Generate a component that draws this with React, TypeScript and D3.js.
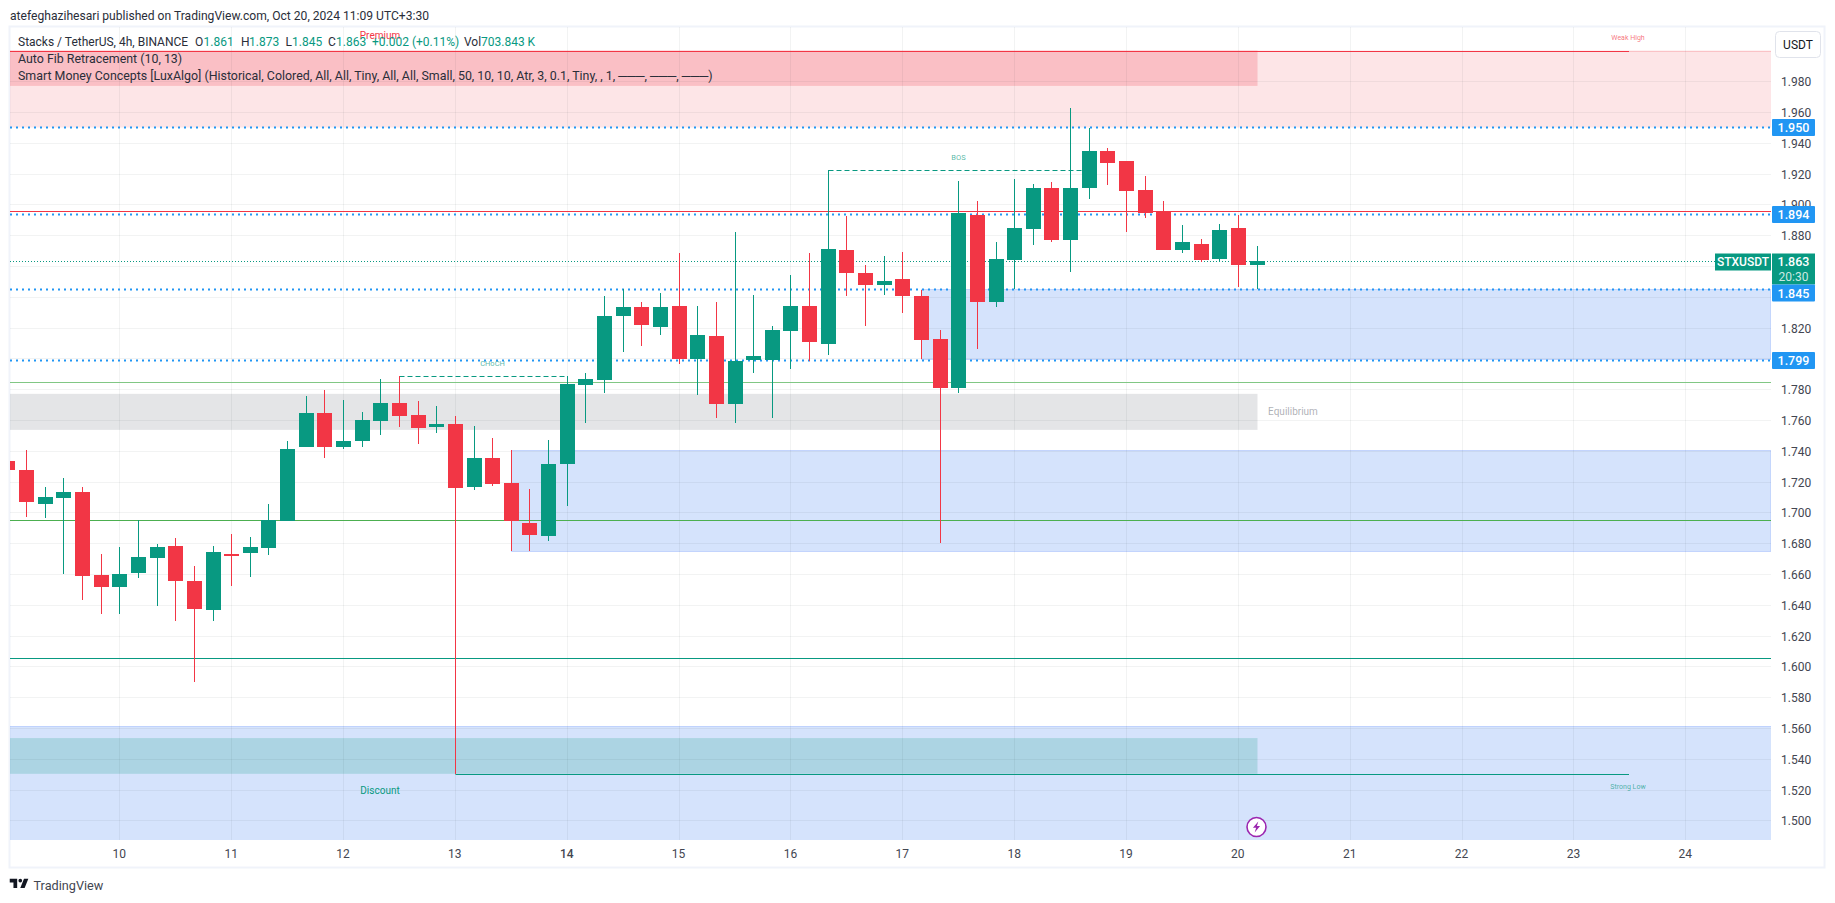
import React from 'react';
import * as d3 from 'd3';

// bars, 4h each, first one opens day 9 00:00: [open, high, low, close]
const bars: number[][] = [
  [1.7335, 1.735, 1.724, 1.7276],
  [1.7276, 1.7406, 1.6971, 1.7068],
  [1.7055, 1.7166, 1.6964, 1.7101],
  [1.7094, 1.7224, 1.6601, 1.7133],
  [1.7133, 1.7166, 1.6432, 1.6588],
  [1.6594, 1.6731, 1.6341, 1.6516],
  [1.6516, 1.6776, 1.6341, 1.6601],
  [1.6607, 1.6949, 1.6575, 1.6711],
  [1.6704, 1.6795, 1.6393, 1.6776],
  [1.6782, 1.6834, 1.6295, 1.6555],
  [1.6555, 1.6653, 1.5899, 1.6373],
  [1.6367, 1.6782, 1.6295, 1.6743],
  [1.673, 1.686, 1.6523, 1.6717],
  [1.6737, 1.6841, 1.6581, 1.6776],
  [1.6769, 1.7055, 1.6724, 1.6949],
  [1.6945, 1.7464, 1.6945, 1.7412],
  [1.7425, 1.7757, 1.7425, 1.7646],
  [1.7646, 1.7796, 1.7354, 1.7425],
  [1.7425, 1.7731, 1.7412, 1.7464],
  [1.7464, 1.7653, 1.7425, 1.7601],
  [1.7594, 1.7866, 1.7503, 1.7711],
  [1.7711, 1.7884, 1.7555, 1.7627],
  [1.7633, 1.7724, 1.7445, 1.7549],
  [1.7555, 1.7692, 1.7516, 1.7575],
  [1.7575, 1.7627, 1.5302, 1.7159],
  [1.7166, 1.7562, 1.7146, 1.7354],
  [1.7354, 1.7484, 1.7172, 1.7185],
  [1.7192, 1.7406, 1.675, 1.6945],
  [1.6932, 1.7153, 1.675, 1.6854],
  [1.6847, 1.7471, 1.6815, 1.7315],
  [1.7315, 1.7887, 1.7042, 1.7835],
  [1.7828, 1.7906, 1.7581, 1.7867],
  [1.7861, 1.8406, 1.7776, 1.8276],
  [1.8276, 1.8452, 1.8042, 1.8335],
  [1.8335, 1.8367, 1.8081, 1.8218],
  [1.8205, 1.8426, 1.8153, 1.8335],
  [1.8341, 1.8685, 1.7965, 1.7997],
  [1.7997, 1.8341, 1.7763, 1.8153],
  [1.8146, 1.8367, 1.7614, 1.7705],
  [1.7705, 1.8822, 1.7581, 1.7984],
  [1.7991, 1.8413, 1.7906, 1.8017],
  [1.7991, 1.8211, 1.7614, 1.8185],
  [1.8179, 1.8543, 1.7932, 1.8341],
  [1.8341, 1.8685, 1.7984, 1.8107],
  [1.8094, 1.9225, 1.8023, 1.8711],
  [1.8705, 1.8926, 1.8406, 1.8556],
  [1.8556, 1.8608, 1.8211, 1.8478],
  [1.8478, 1.8666, 1.8413, 1.8504],
  [1.8517, 1.8692, 1.8296, 1.8406],
  [1.8406, 1.8445, 1.7997, 1.812],
  [1.8127, 1.8185, 1.6802, 1.7809],
  [1.7809, 1.9153, 1.7776, 1.8945],
  [1.8932, 1.9023, 1.8062, 1.8367],
  [1.8367, 1.8757, 1.8335, 1.8647],
  [1.8639, 1.9165, 1.8451, 1.8847],
  [1.8841, 1.9133, 1.8737, 1.9107],
  [1.9107, 1.9146, 1.8756, 1.8769],
  [1.8769, 1.9627, 1.8561, 1.9107],
  [1.9107, 1.9497, 1.9035, 1.9347],
  [1.9347, 1.9367, 1.9126, 1.9269],
  [1.9282, 1.9282, 1.8821, 1.9087],
  [1.9094, 1.9185, 1.8912, 1.8944],
  [1.8957, 1.9022, 1.8704, 1.8704],
  [1.8704, 1.8866, 1.8685, 1.8756],
  [1.8743, 1.8776, 1.8626, 1.8639],
  [1.8646, 1.8873, 1.8626, 1.8834],
  [1.8847, 1.8931, 1.8464, 1.8607],
  [1.861, 1.873, 1.845, 1.863],
];

const dayTicks = [10, 11, 12, 13, 14, 15, 16, 17, 18, 19, 20, 21, 22, 23, 24];
const gridPrices = d3.range(25).map(i => 1.5 + i * 0.02);
const hiddenPriceLabels = [1.86, 1.84, 1.8];
const lastBar = bars.length - 1;

// zones: [top price, bottom price, first bar, last bar] (null = runs to the pane edge)
const zonesPale = [
  { top: 2.0, bottom: 1.95, from: null, to: null, fill: '#f23645', alpha: 0.13 },
  { top: 1.561, bottom: 1.47, from: null, to: null, fill: '#1664ee', alpha: 0.18 },
];
const zonesCore = [
  { top: 2.0, bottom: 1.977, from: null, to: lastBar, fill: '#f23645', alpha: 0.21 },
  { top: 1.777, bottom: 1.7536, from: null, to: lastBar, fill: '#787b86', alpha: 0.2 },
  { top: 1.5534, bottom: 1.5302, from: null, to: lastBar, fill: '#089981', alpha: 0.2 },
];
const orderBlocks = [
  { top: 1.7406, bottom: 1.675, from: 27 },
  { top: 1.845, bottom: 1.7997, from: 49 },
];
const levelLines = [
  { price: 1.7845, color: '#81c784' },
  { price: 1.695, color: '#4caf50' },
  { price: 1.6052, color: '#089981' },
  { price: 1.8955, color: '#f23645' },
];
const blueLevels = [1.95, 1.894, 1.845, 1.799];
const lastPrice = 1.863;

const structure = [
  { label: 'CHoCH', price: 1.7884, from: 21, to: 30, labelBar: 26 },
  { label: 'BOS', price: 1.9225, from: 44, to: 58, labelBar: 51 },
];
const swings = [
  { label: 'Weak High', price: 2.0, from: 0, color: '#f23645', labelDy: -14.5 },
  { label: 'Strong Low', price: 1.5302, from: 24, color: '#089981', labelDy: 11.5 },
];

const legendTop = [
  { text: 'Stacks / TetherUS, 4h, BINANCE', at: 18, up: false },
  { text: 'O', at: 195, up: false },
  { text: '1.861', at: 203.5, up: true },
  { text: 'H', at: 241, up: false },
  { text: '1.873', at: 249, up: true },
  { text: 'L', at: 285.5, up: false },
  { text: '1.845', at: 292, up: true },
  { text: 'C', at: 328, up: false },
  { text: '1.863', at: 336, up: true },
  { text: '+0.002 (+0.11%)', at: 372, up: true },
  { text: 'Vol', at: 464, up: false },
  { text: '703.843 K', at: 481, up: true },
];
const legendRows = [
  'Auto Fib Retracement (10, 13)',
  'Smart Money Concepts [LuxAlgo] (Historical, Colored, All, All, Tiny, All, All, Small, 50, 10, 10, Atr, 3, 0.1, Tiny, , 1, ───, ───, ───)',
];

const UP = '#089981';
const DOWN = '#f23645';
const BLUE = '#2196f3';
const FONT = 'Roboto, "Liberation Sans", sans-serif';

const WIDTH = 1835;
const HEIGHT = 903;
const pane = { left: 10, right: 1771, top: 27, bottom: 840 };

const x = d3.scaleLinear().domain([10, 24]).range([119.3, 1685.3]);
const y = d3.scaleLinear().domain([1.98, 1.5]).range([81.3, 820.3]);
const barX = (i: number) => Math.round(x(9 + i / 6)) + 0.5;
const py = (p: number) => Math.round(y(p)) + 0.5;
const zoneLeft = (from: number | null) => (from === null ? pane.left : barX(from));
const zoneRight = (to: number | null) => (to === null ? pane.right : barX(to));

const priceText = (p: number) => d3.format('.3f')(p);

function Badge({ price, centre, fill }: { price: number; centre: number; fill: string }) {
  return (
    <g>
      <rect x={1772} y={centre - 8.5} width={43} height={17} rx={1} fill={fill} />
      <text x={1793.5} y={centre + 4.5} textAnchor="middle" fontSize={12.5} fontWeight={500} fill="#fff">
        {priceText(price)}
      </text>
    </g>
  );
}

export default function App() {
  const bodyW = 15;
  const lastY = py(lastPrice);
  const lastBadgeBottom = lastY + 23;

  return (
    <svg
      width={WIDTH}
      height={HEIGHT}
      style={{ position: 'fixed', left: 0, top: 0, background: '#fff' }}
      fontFamily={FONT}
    >
      <defs>
        <clipPath id="pane">
          <rect x={pane.left} y={pane.top} width={pane.right - pane.left} height={pane.bottom - pane.top} />
        </clipPath>
      </defs>

      <text x={10} y={19.5} fontSize={12.1} fill="#2a2e39">
        atefeghazihesari published on TradingView.com, Oct 20, 2024 11:09 UTC+3:30
      </text>

      <rect x={9.5} y={26.5} width={1815} height={841} fill="none" stroke="#f0f3fa" strokeWidth={2} />

      <g clipPath="url(#pane)">
        {zonesPale.map((z, i) => (
          <rect
            key={i}
            x={zoneLeft(z.from)}
            width={zoneRight(z.to) - zoneLeft(z.from)}
            y={y(z.top)}
            height={y(z.bottom) - y(z.top)}
            fill={z.fill}
            fillOpacity={z.alpha}
          />
        ))}
        {orderBlocks.map((b, i) => (
          <rect
            key={i}
            x={barX(b.from)}
            width={pane.right - barX(b.from)}
            y={py(b.top)}
            height={py(b.bottom) - py(b.top)}
            fill="#1664ee"
            fillOpacity={0.18}
            stroke="#2962ff"
            strokeOpacity={0.2}
          />
        ))}
        {zonesCore.map((z, i) => (
          <rect
            key={i}
            x={zoneLeft(z.from)}
            width={zoneRight(z.to) - zoneLeft(z.from)}
            y={y(z.top)}
            height={y(z.bottom) - y(z.top)}
            fill={z.fill}
            fillOpacity={z.alpha}
          />
        ))}
        <line x1={pane.left} x2={pane.right} y1={py(1.561)} y2={py(1.561)} stroke="#2962ff" strokeOpacity={0.2} />
        <line x1={pane.left} x2={pane.right} y1={py(2.0)} y2={py(2.0)} stroke="#f23645" strokeOpacity={0.2} />

        {/* grid sits above the zones, it still shows through in the picture */}
        {gridPrices.map(p => (
          <line key={p} x1={pane.left} x2={pane.right} y1={py(p)} y2={py(p)} stroke="#2a2e39" strokeOpacity={0.06} />
        ))}
        {dayTicks.map(d => (
          <line
            key={d}
            x1={Math.round(x(d)) + 0.5}
            x2={Math.round(x(d)) + 0.5}
            y1={pane.top}
            y2={pane.bottom}
            stroke="#2a2e39"
            strokeOpacity={0.06}
          />
        ))}

        {levelLines.map(l => (
          <line key={l.price} x1={pane.left} x2={pane.right} y1={py(l.price)} y2={py(l.price)} stroke={l.color} />
        ))}
        {blueLevels.map(p => (
          <line
            key={p}
            x1={pane.left}
            x2={pane.right}
            y1={py(p)}
            y2={py(p)}
            stroke={BLUE}
            strokeWidth={2}
            strokeDasharray="2,4"
          />
        ))}
        <line
          x1={pane.left}
          x2={pane.right}
          y1={lastY}
          y2={lastY}
          stroke={UP}
          strokeDasharray="1,2"
        />

        {swings.map(s => (
          <g key={s.label}>
            <line x1={s.from ? barX(s.from) : pane.left} x2={1629} y1={py(s.price)} y2={py(s.price)} stroke={s.color} />
            <text
              x={1628}
              y={py(s.price) + s.labelDy + 3}
              textAnchor="middle"
              fontSize={7}
              fill={s.color}
              fillOpacity={0.7}
            >
              {s.label}
            </text>
          </g>
        ))}

        {structure.map(s => (
          <g key={s.label}>
            <line
              x1={barX(s.from)}
              x2={barX(s.to)}
              y1={py(s.price)}
              y2={py(s.price)}
              stroke={UP}
              strokeDasharray="5,3"
            />
            <text
              x={barX(s.labelBar)}
              y={py(s.price) - 10.5}
              textAnchor="middle"
              fontSize={7.5}
              fill={UP}
              fillOpacity={0.7}
            >
              {s.label}
            </text>
          </g>
        ))}

        <text x={380} y={38.5} textAnchor="middle" fontSize={10} fill={DOWN}>
          Premium
        </text>
        <text x={380} y={794} textAnchor="middle" fontSize={10} fill={UP}>
          Discount
        </text>
        <text x={1293} y={415} textAnchor="middle" fontSize={10} fill="#787b86" fillOpacity={0.6}>
          Equilibrium
        </text>

        {bars.map(([o, h, l, c], i) => {
          const color = c >= o ? UP : DOWN;
          const cx = barX(i);
          const top = Math.round(y(Math.max(o, c)));
          const bot = Math.round(y(Math.min(o, c)));
          return (
            <g key={i} shapeRendering="crispEdges">
              <line x1={cx} x2={cx} y1={Math.round(y(h))} y2={Math.round(y(l))} stroke={color} />
              <rect x={cx - bodyW / 2} y={top} width={bodyW} height={Math.max(bot - top, 2)} fill={color} />
            </g>
          );
        })}
      </g>

      {/* legend */}
      <g fontSize={12} fill="#2a2e39">
        {legendTop.map(t => (
          <text key={t.at} x={t.at} y={46} fill={t.up ? UP : '#2a2e39'}>
            {t.text}
          </text>
        ))}
        {legendRows.map((row, i) => (
          <text key={row} x={18} y={63 + i * 17} fontSize={12.4}>
            {row}
          </text>
        ))}
      </g>

      {/* price scale */}
      <rect x={1775.5} y={31.5} width={45} height={26} rx={4} fill="#fff" stroke="#e0e3eb" />
      <text x={1798} y={48.5} textAnchor="middle" fontSize={12} fill="#131722">
        USDT
      </text>
      {gridPrices
        .filter(p => !hiddenPriceLabels.some(h => Math.abs(h - p) < 1e-6))
        .map(p => (
          <text key={p} x={1781} y={py(p) + 4.5} fontSize={12} fill="#434651">
            {priceText(p)}
          </text>
        ))}

      <rect x={1715} y={lastY - 8} width={56} height={17} fill={UP} />
      <text x={1743} y={lastY + 4.5} textAnchor="middle" fontSize={12} fontWeight={500} fill="#fff">
        STXUSDT
      </text>
      <rect x={1772} y={lastY - 8} width={43} height={31} fill={UP} />
      <text x={1793.5} y={lastY + 4.5} textAnchor="middle" fontSize={12.5} fontWeight={500} fill="#fff">
        {priceText(lastPrice)}
      </text>
      <text x={1793.5} y={lastY + 19} textAnchor="middle" fontSize={12} fill="#fff" fillOpacity={0.8}>
        20:30
      </text>
      {blueLevels.map(p => (
        <Badge
          key={p}
          price={p}
          fill={BLUE}
          centre={p < lastPrice && y(p) - 8.5 < lastBadgeBottom ? lastBadgeBottom + 8.5 : py(p)}
        />
      ))}

      {/* time scale */}
      {dayTicks.map(d => (
        <text
          key={d}
          x={x(d)}
          y={858}
          textAnchor="middle"
          fontSize={12}
          fontWeight={d === 14 ? 500 : 400}
          fill="#434651"
        >
          {d}
        </text>
      ))}

      {/* bolt marker */}
      <g transform="translate(1256.5,827)">
        <circle r={9.5} fill="#fff" stroke="#9c27b0" strokeWidth={1.6} />
        <path d="M1.8 -5.5 L-3.6 0.8 L-0.4 0.8 L-1.8 5.5 L3.6 -1 L0.4 -1 Z" fill="#9c27b0" />
      </g>

      {/* tradingview mark */}
      <g transform="translate(8.5,875) scale(0.62)" fill="#131722">
        <path d="M14 6H2v6h6v9h6V6Zm12 15h-7l6-15h7l-6 15Zm-7-9a3 3 0 1 0 0-6 3 3 0 0 0 0 6Z" />
      </g>
      <text x={33.5} y={890} fontSize={12.7} fill="#434651">
        TradingView
      </text>
    </svg>
  );
}
